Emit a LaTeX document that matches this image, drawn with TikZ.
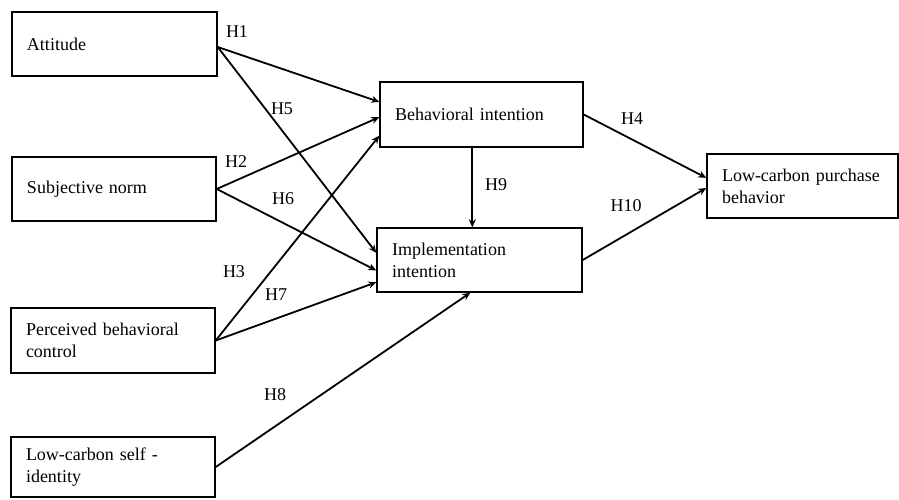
\documentclass[tikz,border=0pt]{standalone}
\usepackage{fontspec}
\setmainfont{Liberation Serif}
\usetikzlibrary{calc,arrows.meta}
\begin{document}
\begin{tikzpicture}[x=1pt,y=-1pt,
  box/.style={draw,line width=1.4pt,inner xsep=15pt,inner ysep=0pt,align=left,
    font=\fontsize{18}{22}\selectfont},
  arr/.style={draw,line width=1.8pt,-{Stealth[length=8pt,width=7pt]}},
  lab/.style={font=\fontsize{18}{20}\selectfont,inner sep=0pt}]
\useasboundingbox (0,0) rectangle (899,499);
\fill[white] (0,0) rectangle (899,499);
\node[box,minimum width=205pt,minimum height=64pt,text width=175pt] (A) at (114.5,44) {Attitude};
\node[box,minimum width=204pt,minimum height=64pt,text width=174pt] (SN) at (114,189) {Subjective norm};
\node[box,minimum width=204pt,minimum height=65pt,text width=174pt] (PBC) at (113,340.5) {Perceived behavioral\\control};
\node[box,minimum width=204pt,minimum height=60pt,text width=174pt] (LSI) at (113,467) {Low-carbon self -\\identity};
\node[box,minimum width=203pt,minimum height=65pt,text width=173pt] (BI) at (481.5,114.5) {Behavioral intention};
\node[box,minimum width=205pt,minimum height=64pt,text width=175pt] (II) at (479.5,260) {Implementation\\intention};
\node[box,minimum width=191pt,minimum height=64pt,text width=161pt] (LC) at (802.5,186) {Low-carbon purchase\\behavior};
% connectors
\draw[arr] ($(A.east)+(0,3)$) -- ($(BI.north west)!0.31!(BI.south west)$);
\draw[arr] ($(A.east)+(0,3)$) -- ($(II.north west)!0.39!(II.south west)$);
\draw[arr] (SN.east) -- ($(BI.north west)!0.54!(BI.south west)$);
\draw[arr] (SN.east) -- ($(II.north west)!0.66!(II.south west)$);
\draw[arr] (PBC.east) -- ($(BI.north west)!0.82!(BI.south west)$);
\draw[arr] (PBC.east) -- ($(II.north west)!0.84!(II.south west)$);
\draw[arr] (LSI.east) -- ($(II.south west)+(94,0)$);
\draw[arr] ($(BI.south west)+(93,0)$) -- ($(II.north west)+(96,0)$);
\draw[arr] (BI.east) -- ($(LC.north west)!0.375!(LC.south west)$);
\draw[arr] (II.east) -- ($(LC.north west)!0.53!(LC.south west)$);
% labels
\node[lab] (h1) at (237,32) {H1};
\node[lab] (h5) at (282,109) {H5};
\node[lab] (h2) at (236,162) {H2};
\node[lab] (h6) at (283,199) {H6};
\node[lab] (h3) at (234,272) {H3};
\node[lab] (h7) at (276,295) {H7};
\node[lab] (h8) at (275,395) {H8};
\node[lab] (h9) at (496,185) {H9};
\node[lab] (h4) at (632,119) {H4};
\node[lab] (h10) at (626,206) {H10};
\end{tikzpicture}
\end{document}
